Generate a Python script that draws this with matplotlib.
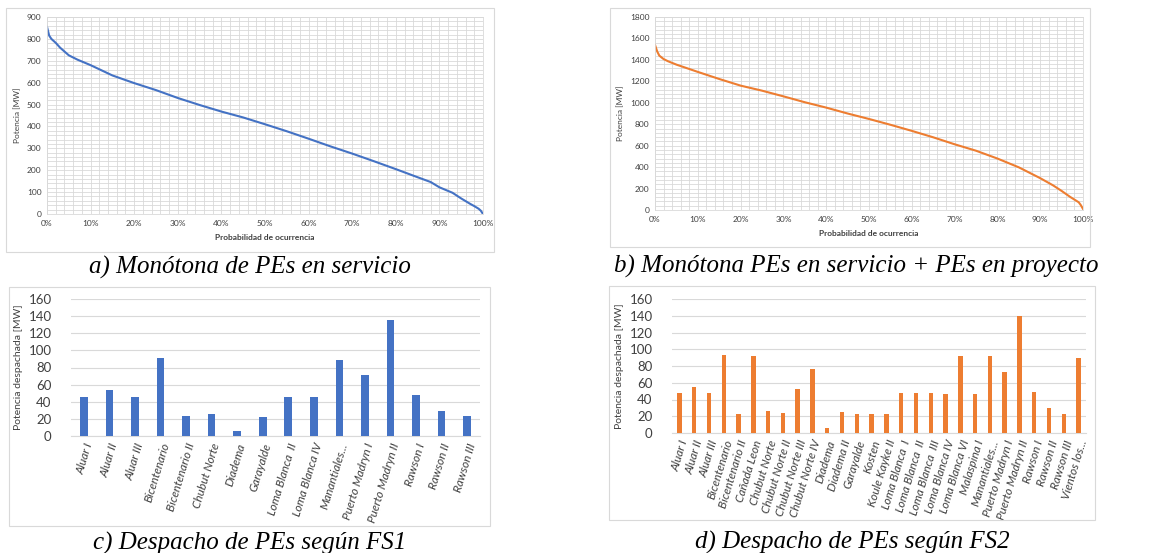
import numpy as np
import matplotlib
matplotlib.use('Agg')
import matplotlib.pyplot as plt
from matplotlib.patches import Rectangle
from matplotlib.ticker import MultipleLocator, PercentFormatter

# monotone curves (probability %, power MW)
prob_a = [0, 0.5, 1, 2, 3, 5, 7, 10, 15, 20, 25, 30, 35, 40, 45, 50, 55, 60, 65,
          70, 75, 80, 85, 88, 90, 93, 95, 97, 98, 99, 99.5, 100]
mw_a = [855, 815, 800, 782, 760, 725, 705, 680, 633, 598, 566, 530, 498, 468, 441,
        410, 378, 344, 309, 276, 241, 205, 168, 146, 122, 97, 71, 47, 36, 24, 15, 0]

prob_b = [0, 0.5, 1, 2, 3, 5, 10, 15, 20, 25, 30, 35, 40, 45, 50, 55, 60, 65, 70,
          75, 80, 85, 90, 93, 95, 97, 99, 99.5, 100]
mw_b = [1540, 1480, 1440, 1408, 1388, 1356, 1288, 1222, 1160, 1113, 1060, 1005, 955,
        900, 849, 795, 738, 678, 613, 553, 480, 398, 297, 230, 178, 122, 72, 45, 10]

# dispatch per wind farm
names_fs1 = ['Aluar I', 'Aluar II', 'Aluar III', 'Bicentenario', 'Bicentenario II',
             'Chubut Norte', 'Diadema', 'Garayalde', 'Loma Blanca  II', 'Loma Blanca IV',
             'Manantiales...', 'Puerto Madryn I', 'Puerto Madryn II', 'Rawson I',
             'Rawson II', 'Rawson III']
mw_fs1 = [46, 54, 46, 91, 23, 26, 6, 22, 46, 46, 89, 71, 136, 48, 29, 23]

names_fs2 = ['Aluar I', 'Aluar II', 'Aluar III', 'Bicentenario', 'Bicentenario II',
             'Cañada Leon', 'Chubut Norte', 'Chubut Norte II', 'Chubut Norte III',
             'Chubut Norte IV', 'Diadema', 'Diadema II', 'Garayalde', 'Kosten',
             'Koule Kayke II', 'Loma Blanca  I', 'Loma Blanca  II', 'Loma Blanca  III',
             'Loma Blanca IV', 'Loma Blanca VI', 'Malaspina I', 'Manantiales...',
             'Puerto Madryn I', 'Puerto Madryn II', 'Rawson I', 'Rawson II',
             'Rawson III', 'Vientos los...']
mw_fs2 = [48, 55, 48, 93, 23, 91.5, 26, 24, 53, 76, 6.5, 25, 22.5, 22.5, 22.5, 47.5,
          47.5, 47.5, 47, 92, 46, 91.5, 73, 140, 49, 30, 23, 89.5]

captions = ['a) Monótona de PEs en servicio',
            'b) Monótona PEs en servicio + PEs en proyecto',
            'c) Despacho de PEs según FS1',
            'd) Despacho de PEs según FS2']

BLUE = '#4472C4'
ORANGE = '#ED7D31'
GRID = '#d9d9d9'
TXT = '#404040'
W, H = 1157, 553

plt.rcParams['font.family'] = ['Lato', 'DejaVu Sans']

fig = plt.figure(figsize=(W / 100, H / 100), dpi=100)


def px_axes(x0, y0, x1, y1):
    return fig.add_axes([x0 / W, 1 - y1 / H, (x1 - x0) / W, (y1 - y0) / H])


def chart_box(x0, y0, x1, y1):
    fig.add_artist(Rectangle((x0 / W, 1 - y1 / H), (x1 - x0) / W, (y1 - y0) / H,
                             transform=fig.transFigure, fill=False,
                             edgecolor='#d9d9d9', linewidth=0.8))


def monotone(ax, x, y, color, ymax, ystep, yminor):
    ax.plot(x, y, color=color, linewidth=1.5)
    ax.set_xlim(0, 100)
    ax.set_ylim(0, ymax)
    ax.xaxis.set_major_locator(MultipleLocator(10))
    ax.xaxis.set_minor_locator(MultipleLocator(2))
    ax.xaxis.set_major_formatter(PercentFormatter(decimals=0))
    ax.yaxis.set_major_locator(MultipleLocator(ystep))
    ax.yaxis.set_minor_locator(MultipleLocator(yminor))
    ax.grid(which='both', color=GRID, linewidth=0.6)
    ax.set_axisbelow(True)
    for s in ax.spines.values():
        s.set_color(GRID)
        s.set_linewidth(0.6)
    ax.tick_params(which='both', length=0, labelsize=6, colors=TXT, pad=4)
    ax.set_ylabel('Potencia [MW]', fontsize=6, color=TXT, labelpad=4)
    ax.set_xlabel('Probabilidad de ocurrencia', fontsize=6, color=TXT,
                  fontweight='bold', labelpad=5)


def bars(ax, names, vals, color, width):
    pos = np.arange(len(names))
    ax.bar(pos, vals, width=width, color=color, zorder=3)
    ax.set_xlim(-0.5, len(names) - 0.5)
    ax.set_ylim(0, 160)
    ax.yaxis.set_major_locator(MultipleLocator(20))
    ax.grid(axis='y', color=GRID, linewidth=0.8)
    for k in ('top', 'right', 'left'):
        ax.spines[k].set_visible(False)
    ax.spines['bottom'].set_color(GRID)
    ax.set_xticks(pos)
    ax.set_xticklabels(names, rotation=73, ha='right', rotation_mode='anchor',
                       fontsize=8.5, style='italic', color=TXT)
    ax.tick_params(axis='x', length=0, pad=4)
    ax.tick_params(axis='y', length=0, labelsize=9.5, colors=TXT, pad=14)
    ax.set_ylabel('Potencia despachada [MW]', fontsize=7.5, color=TXT, labelpad=4)


# a) monotone of farms in service
chart_box(6, 8, 494, 252)
ax_a = px_axes(47, 17, 483, 214)
monotone(ax_a, prob_a, mw_a, BLUE, 900, 100, 20)

# b) monotone service + projects
chart_box(610, 8, 1090, 247)
ax_b = px_axes(655, 17, 1083, 210)
monotone(ax_b, prob_b, mw_b, ORANGE, 1800, 200, 40)

# c) dispatch FS1
chart_box(9, 287, 490, 526)
ax_c = px_axes(71, 299, 480, 436)
bars(ax_c, names_fs1, mw_fs1, BLUE, 0.3)

# d) dispatch FS2
chart_box(609, 286, 1095, 520)
ax_d = px_axes(672, 299, 1086, 433)
bars(ax_d, names_fs2, mw_fs2, ORANGE, 0.3)

cap_pos = [(250, 267), (856, 266), (250, 543), (852, 542)]
for (cx, cy), txt in zip(cap_pos, captions):
    fig.text(cx / W, 1 - cy / H, txt, ha='center', va='center', fontsize=18,
             family='Liberation Serif', style='italic', color='black')

fig.savefig('out.png', dpi=100)
